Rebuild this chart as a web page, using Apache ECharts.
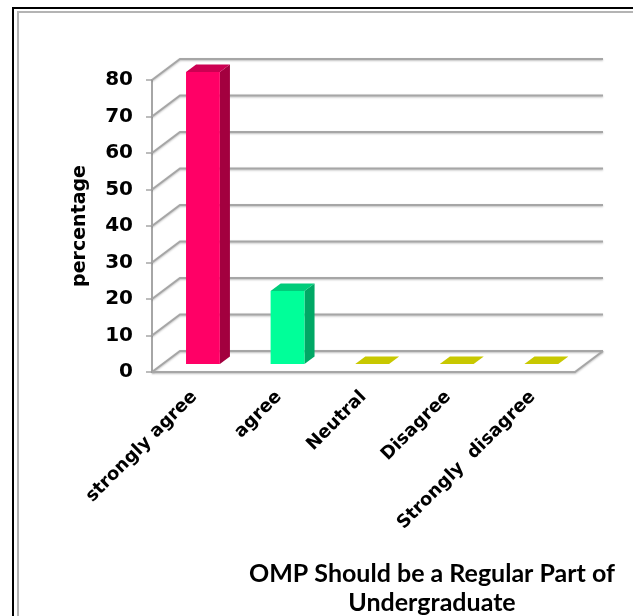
<!DOCTYPE html>
<html>
<head>
<meta charset="utf-8">
<script src="https://cdn.jsdelivr.net/npm/echarts@6/dist/echarts.min.js"></script>
<style>
  html, body { margin: 0; padding: 0; background: #ffffff; }
  #chart { width: 633px; height: 616px; }
</style>
</head>
<body>
<div id="chart"></div>
<script>
// Survey responses (percent of respondents)
const categories = ['strongly agree', 'agree', 'Neutral', 'Disagree', 'Strongly  disagree'];
const percentages = [80, 20, 0, 0, 0];
const yTicks = [0, 10, 20, 30, 40, 50, 60, 70, 80];

// Per-bar face colours: front, side, top
const frontColors = ['#FF0066', '#00FF99', '#C8C800', '#C8C800', '#C8C800'];
const sideColors  = ['#A3003F', '#00A865', '#A0A000', '#A0A000', '#A0A000'];
const topColors   = ['#CC0052', '#00CC7A', '#C8C800', '#C8C800', '#C8C800'];

// Pseudo-3D depth vector (pixels) and bar placement within the depth
const DEPTH = [28, -21];
const BAR_FRONT = 0.38;
const BAR_BACK = 0.74;
const BAR_HALF = 0.2; // half bar width as a fraction of the category band

const gridLine = {
  stroke: '#A6A6A6',
  lineWidth: 2,
  shadowColor: 'rgba(0,0,0,0.25)',
  shadowBlur: 2,
  shadowOffsetY: 1
};

function renderWall(params, api) {
  const v = api.value(1);
  const band = api.size([1, 0])[0];
  const p = api.coord([0, v]);
  const pEnd = api.coord([categories.length - 1, v]);
  const x0 = p[0] - band / 2;
  const x1 = pEnd[0] + band / 2;
  const y = p[1];
  const children = [
    { type: 'polyline', shape: { points: [[x0, y], [x0 + DEPTH[0], y + DEPTH[1]], [x1 + DEPTH[0], y + DEPTH[1]]] }, style: Object.assign({ fill: null }, gridLine) }
  ];
  if (v === 0) {
    children.push({
      type: 'polyline',
      shape: { points: [[x0, y], [x1, y], [x1 + DEPTH[0], y + DEPTH[1]]] },
      style: Object.assign({ fill: null }, gridLine)
    });
  }
  return { type: 'group', children: children };
}

function renderBar(params, api) {
  const i = api.value(0);
  const v = api.value(1);
  const band = api.size([1, 0])[0];
  const base = api.coord([i, 0]);
  const top = api.coord([i, v]);
  const half = band * BAR_HALF;
  const fx = DEPTH[0] * BAR_FRONT, fy = DEPTH[1] * BAR_FRONT;
  const bx = DEPTH[0] * BAR_BACK, by = DEPTH[1] * BAR_BACK;
  const l = base[0] - half + fx - 2, r = base[0] + half + fx - 2;
  const yb = base[1] + fy, yt = top[1] + fy;
  const dx = bx - fx, dy = by - fy;
  const children = [];
  if (v > 0) {
    children.push({
      type: 'polygon',
      shape: { points: [[r, yb], [r + dx, yb + dy], [r + dx, yt + dy], [r, yt]] },
      style: { fill: sideColors[i] }
    });
    children.push({
      type: 'rect',
      shape: { x: l, y: yt, width: r - l, height: yb - yt },
      style: { fill: frontColors[i] }
    });
  }
  children.push({
    type: 'polygon',
    shape: { points: [[l, yt], [r, yt], [r + dx, yt + dy], [l + dx, yt + dy]] },
    style: { fill: topColors[i] }
  });
  return { type: 'group', children: children };
}

const chart = echarts.init(document.getElementById('chart'));
chart.setOption({
  animation: false,
  backgroundColor: '#ffffff',
  graphic: [
    { type: 'rect', shape: { x: 13, y: 8, width: 700, height: 700 }, style: { fill: null, stroke: '#000000', lineWidth: 2 }, silent: true },
    { type: 'rect', shape: { x: 18, y: 12, width: 700, height: 700 }, style: { fill: null, stroke: '#B4B4B4', lineWidth: 2 }, silent: true }
  ],
  title: {
    text: 'OMP Should be a Regular Part of\nUndergraduate',
    left: 427,
    top: 554,
    textAlign: 'center',
    textStyle: { fontFamily: 'Lato', fontWeight: 'bold', fontSize: 25, color: '#000000', lineHeight: 29 }
  },
  grid: { left: 152, top: 80, width: 423, height: 292 },
  xAxis: {
    type: 'category',
    data: categories,
    axisLine: { show: false },
    axisTick: { show: false },
    axisLabel: {
      rotate: 45,
      margin: 22,
      interval: 0,
      fontFamily: 'DejaVu Sans',
      fontWeight: 'bold',
      fontSize: 18,
      color: '#000000'
    }
  },
  yAxis: {
    type: 'value',
    min: 0,
    max: 80,
    interval: 10,
    name: 'percentage',
    nameLocation: 'middle',
    nameRotate: 90,
    nameGap: 62,
    nameTextStyle: { fontFamily: 'DejaVu Sans', fontWeight: 'bold', fontSize: 19, color: '#000000' },
    axisLine: { show: true, lineStyle: { color: '#A6A6A6', width: 2 } },
    axisTick: { show: true, length: 6, lineStyle: { color: '#A6A6A6', width: 1.5 } },
    splitLine: { show: false },
    axisLabel: {
      margin: 19,
      fontFamily: 'DejaVu Sans',
      fontWeight: 'bold',
      fontSize: 20,
      color: '#000000'
    }
  },
  series: [
    {
      type: 'custom',
      renderItem: renderWall,
      data: yTicks.map(function (t) { return [0, t]; }),
      silent: true,
      z: 1
    },
    {
      type: 'custom',
      renderItem: renderBar,
      data: percentages.map(function (v, i) { return [i, v]; }),
      z: 2
    }
  ]
});
</script>
</body>
</html>
